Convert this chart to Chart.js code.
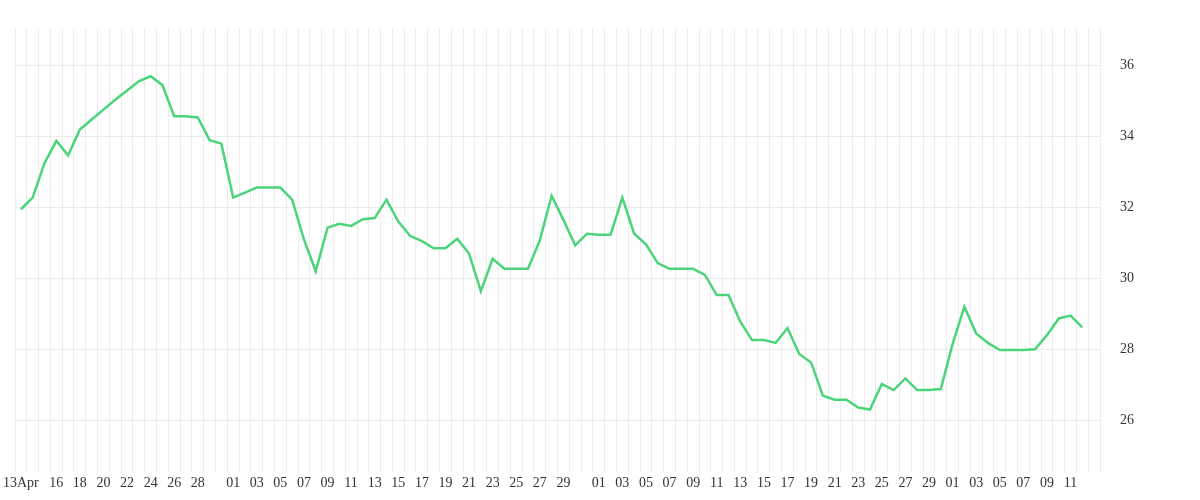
<!DOCTYPE html>
<html>
<head>
<meta charset="utf-8">
<script src="https://cdn.jsdelivr.net/npm/chart.js@4"></script>
<style>
  body { margin: 0; background: #fff; }
  #wrap { width: 1200px; height: 500px; }
</style>
</head>
<body>
<div id="wrap"><canvas id="myChart"></canvas></div>
<script>
// daily values, 13 Apr .. 12 Jul
var values = [
    31.95, 32.28, 33.25, 33.88, 33.47, 34.2, 34.48, 34.76, 35.04, 35.3,
    35.56, 35.7, 35.45, 34.57, 34.57, 34.54, 33.9, 33.8, 32.28, 32.42,
    32.56, 32.56, 32.56, 32.22, 31.1, 30.2, 31.43, 31.54, 31.48, 31.67,
    31.7, 32.22, 31.6, 31.2, 31.05, 30.85, 30.85, 31.12, 30.7, 29.64,
    30.55, 30.27, 30.27, 30.27, 31.07, 32.33, 31.65, 30.93, 31.26, 31.23,
    31.23, 32.28, 31.26, 30.96, 30.43, 30.27, 30.27, 30.27, 30.1, 29.53,
    29.53, 28.78, 28.26, 28.26, 28.18, 28.6, 27.87, 27.63, 26.69, 26.58,
    26.58, 26.36, 26.3, 27.02, 26.85, 27.18, 26.85, 26.85, 26.88, 28.15,
    29.2, 28.45, 28.18, 27.98, 27.98, 27.98, 28.0, 28.4, 28.87, 28.95,
    28.62, null
];
var months = ['Apr', 'May', 'Jun', 'Jul'];
var firstDays = [13, 1, 1, 1];
var lastDays = [30, 31, 30, 13];
var yTicks = [26, 28, 30, 32, 34, 36];

var labels = [];
var days = [];
for (var m = 0; m < months.length; m++) {
    for (var d = firstDays[m]; d <= lastDays[m]; d++) {
        labels.push(d + ' ' + months[m]);
        days.push(d);
    }
}

function tickText(i) {
    var d = days[i];
    if (i === 0) return '13Apr';
    if (i === labels.length - 1) return '';
    if (i < 18) return (d % 2 === 0 && d !== 14 && d !== 30) ? String(d) : '';
    if (d === 31) return '';
    return (d % 2 === 1) ? (d < 10 ? '0' + d : String(d)) : '';
}

var ctx = document.getElementById('myChart');
new Chart(ctx, {
    type: 'line',
    data: {
        labels: labels,
        datasets: [{
            data: values,
            borderColor: '#4cd47a',
            borderWidth: 2.5,
            pointRadius: 0,
            lineTension: 0,
            fill: false
        }]
    },
    options: {
        responsive: true,
        maintainAspectRatio: false,
        animation: false,
        layout: { padding: { left: 2, right: 46, top: 2, bottom: 5 } },
        plugins: { legend: { display: false }, tooltip: { enabled: false } },
        scales: {
            x: {
                offset: true,
                grid: { color: '#ececec', offset: true, tickLength: 8 },
                border: { display: false },
                ticks: {
                    autoSkip: false,
                    maxRotation: 0,
                    color: '#333',
                    font: { family: 'Liberation Serif', size: 14 },
                    callback: function (v, i) { return tickText(i); }
                }
            },
            y: {
                position: 'right',
                min: 24.76,
                max: 37.05,
                afterBuildTicks: function (axis) {
                    axis.ticks = yTicks.map(function (v) { return { value: v }; });
                },
                grid: { color: '#ececec', drawTicks: false },
                border: { display: false },
                ticks: {
                    padding: 20,
                    color: '#333',
                    font: { family: 'Liberation Serif', size: 14 }
                }
            }
        }
    }
});
</script>
</body>
</html>
